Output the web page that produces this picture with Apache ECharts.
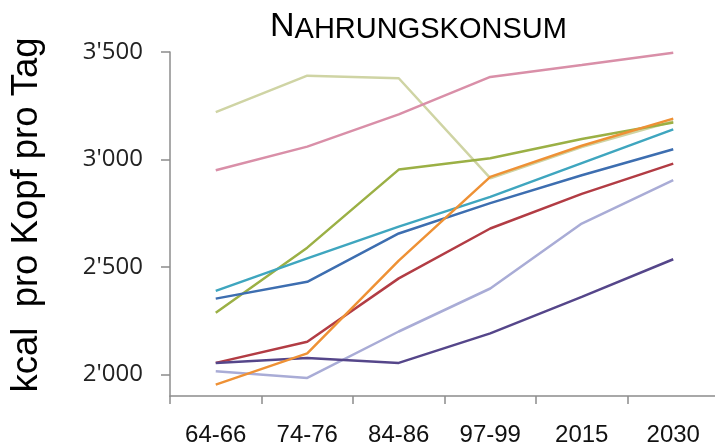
<!DOCTYPE html>
<html>
<head>
<meta charset="utf-8">
<script src="https://cdn.jsdelivr.net/npm/echarts@6/dist/echarts.min.js"></script>
<style>html,body{margin:0;padding:0;background:#fff;}#c{width:715px;height:444px;}</style>
</head>
<body>
<div id="c"></div>
<script>
const categories = ['64-66', '74-76', '84-86', '97-99', '2015', '2030'];
const yTicks = [2000, 2500, 3000, 3500];

const seriesPale     = [3220, 3390, 3378, 2913, 3058, 3178];
const seriesPink     = [2950, 3060, 3210, 3384, 3440, 3497];
const seriesOlive    = [2287, 2590, 2953, 3006, 3095, 3172];
const seriesTeal     = [2389, 2540, 2688, 2826, 2983, 3140];
const seriesBlue     = [2353, 2431, 2656, 2797, 2927, 3048];
const seriesRed      = [2054, 2152, 2447, 2679, 2840, 2981];
const seriesLavender = [2015, 1984, 2200, 2400, 2702, 2904];
const seriesPurple   = [2054, 2077, 2054, 2191, 2361, 2536];
const seriesOrange   = [1953, 2098, 2530, 2919, 3064, 3190];

const lines = [
  {data: seriesPale, color: '#cfd4a4'},
  {data: seriesPink, color: '#d98fa8'},
  {data: seriesOlive, color: '#9bb045'},
  {data: seriesTeal, color: '#3fa6bf'},
  {data: seriesBlue, color: '#3d6eb0'},
  {data: seriesRed, color: '#b23c44'},
  {data: seriesLavender, color: '#a9acd6'},
  {data: seriesPurple, color: '#55468a'},
  {data: seriesOrange, color: '#ee9135'}
];

const chart = echarts.init(document.getElementById('c'), null, {renderer: 'canvas'});
chart.setOption({
  animation: false,
  backgroundColor: '#ffffff',
  title: {
    text: '{a|N}{b|AHRUNGSKONSUM}',
    left: 270,
    top: 10,
    padding: 0,
    textStyle: {
      fontWeight: 'normal',
      rich: {
        a: {fontFamily: 'Liberation Sans', fontWeight: 'normal', fontSize: 34, color: '#000', verticalAlign: 'bottom', lineHeight: 34},
        b: {fontFamily: 'Liberation Sans', fontWeight: 'normal', fontSize: 29, color: '#000', verticalAlign: 'bottom', lineHeight: 34}
      }
    }
  },
  graphic: [{
    type: 'text',
    x: 27,
    y: 215,
    rotation: Math.PI / 2,
    style: {
      text: 'kcal  pro Kopf pro Tag',
      font: '36.5px "Liberation Sans"',
      fill: '#000',
      align: 'center',
      verticalAlign: 'middle'
    }
  }],
  grid: {left: 170, top: 52, width: 549, bottom: 48, containLabel: false, outerBoundsMode: 'none'},
  xAxis: {
    type: 'category',
    data: categories,
    boundaryGap: true,
    axisLine: {lineStyle: {color: '#8c8c8c', width: 1.5}},
    axisTick: {show: true, length: 8, lineStyle: {color: '#8c8c8c', width: 1.5}},
    axisLabel: {margin: 27, fontFamily: 'Liberation Sans', fontSize: 24, color: '#111'},
    splitLine: {show: false}
  },
  yAxis: {
    type: 'value',
    min: 1900,
    max: 3500,
    axisLine: {show: true, lineStyle: {color: '#8c8c8c', width: 1.5}},
    axisTick: {show: true, length: 9, customValues: yTicks, lineStyle: {color: '#8c8c8c', width: 1.5}},
    axisLabel: {
      customValues: yTicks,
      margin: 27,
      fontFamily: 'Open Sans',
      fontSize: 24,
      color: '#222',
      formatter: function (v) {
        const s = String(Math.round(v));
        return s.slice(0, 1) + "'" + s.slice(1);
      }
    },
    splitLine: {show: false}
  },
  series: lines.map(function (l, i) {
    return {
      type: 'line',
      name: 'Reihe ' + (i + 1),
      data: l.data,
      showSymbol: false,
      smooth: false,
      lineStyle: {color: l.color, width: 2.5},
      itemStyle: {color: l.color},
      z: 2 + i
    };
  })
});
</script>
</body>
</html>
